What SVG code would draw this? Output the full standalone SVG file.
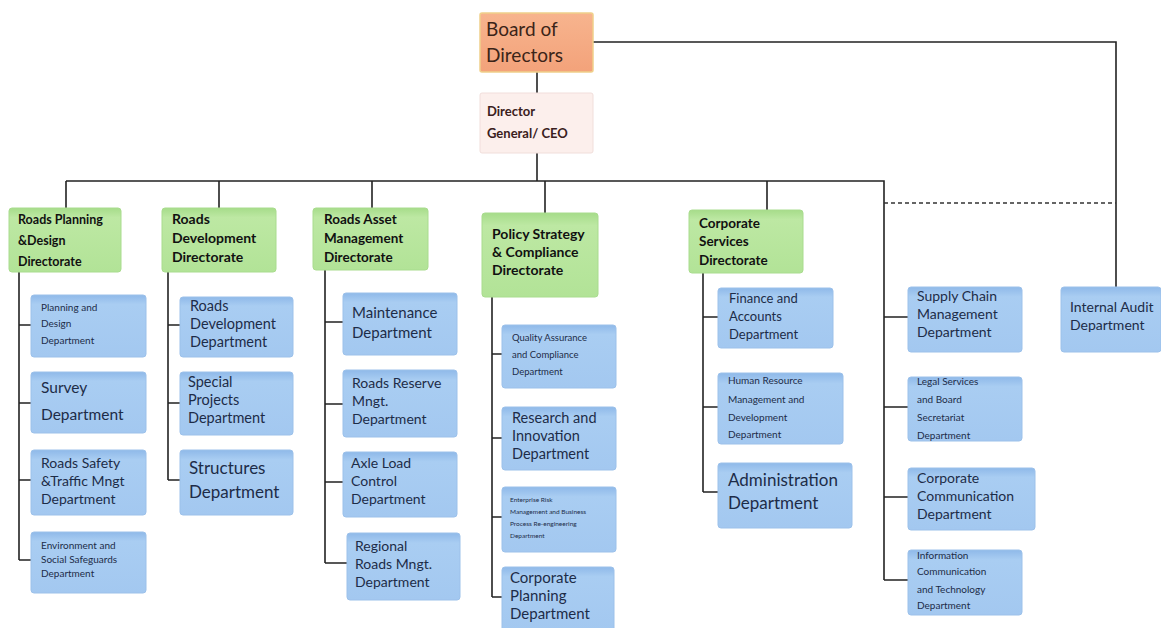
<svg xmlns="http://www.w3.org/2000/svg" width="1161" height="628" viewBox="0 0 1161 628">
<defs>
<linearGradient id="gBlue" x1="0" y1="0" x2="0" y2="1">
<stop offset="0" stop-color="#8fb9e9"/>
<stop offset="0.15" stop-color="#a9cdf2"/>
<stop offset="1" stop-color="#a3c8f0"/>
</linearGradient>
<linearGradient id="gGreen" x1="0" y1="0" x2="0" y2="1">
<stop offset="0" stop-color="#a6dc8a"/>
<stop offset="0.15" stop-color="#bde8a3"/>
<stop offset="1" stop-color="#b2e397"/>
</linearGradient>
<linearGradient id="gOrange" x1="0" y1="0" x2="0" y2="1">
<stop offset="0" stop-color="#f7b48e"/>
<stop offset="1" stop-color="#f3a27a"/>
</linearGradient>
</defs>
<style>
.blue{fill:url(#gBlue);stroke:#9cc1ea;stroke-width:1}
.green{fill:url(#gGreen);stroke:#a9dc8e;stroke-width:1}
.orange{fill:url(#gOrange);stroke:#f0d08a;stroke-width:1.5}
.pink{fill:#fcefec;stroke:#f1dedb;stroke-width:1}
.t{font-family:Lato,"Liberation Sans",sans-serif;fill:#1d2c48}
.gt{font-family:Lato,"Liberation Sans",sans-serif;font-weight:bold;fill:#111}
.ln{fill:none;stroke:#222;stroke-width:1.6}
.dash{fill:none;stroke:#333;stroke-width:1.4;stroke-dasharray:4 3}
</style>
<rect width="1161" height="628" fill="#ffffff"/>

<g id="connectors">
<path class="ln" d="M593 42 H1116 V287"/>
<path class="ln" d="M537 72 V93"/>
<path class="ln" d="M537 153 V181"/>
<path class="ln" d="M66 181 H884 V580"/>
<path class="ln" d="M66 181 V208 M219 181 V208 M372 181 V208 M545 181 V213 M767 181 V210"/>
<path class="dash" d="M884 203 H1116"/>
<path class="ln" d="M19 272 V560 M19 325 H31 M19 403 H31 M19 480 H31 M19 560 H31"/>
<path class="ln" d="M168 272 V480 M168 325 H180 M168 403 H180 M168 480 H180"/>
<path class="ln" d="M325 270 V563 M325 322 H343 M325 404 H343 M325 482 H343 M325 563 H347"/>
<path class="ln" d="M492 297 V597 M492 354 H502 M492 438 H502 M492 517 H502 M492 597 H502"/>
<path class="ln" d="M703 273 V492 M703 317 H718 M703 407 H718 M703 492 H718"/>
<path class="ln" d="M884 317 H908 M884 407 H908 M884 497 H908 M884 580 H908"/>
</g>

<g id="board">
<rect class="orange" x="480" y="13" width="113" height="59" rx="2"/>
<text class="t" style="fill:#3b2418" font-size="19"><tspan x="486" y="36">Board of</tspan><tspan x="486" y="62">Directors</tspan></text>
</g>
<g id="ceo">
<rect class="pink" x="480" y="93" width="113" height="60" rx="2"/>
<text class="gt" style="fill:#3a2020" font-size="13"><tspan x="487" y="116">Director</tspan><tspan x="487" y="138">General/ CEO</tspan></text>
</g>

<g id="dir-planning">
<rect class="green" x="9" y="208" width="112" height="64" rx="3"/>
<text class="gt" font-size="12.5"><tspan x="18" y="224">Roads Planning</tspan><tspan x="18" y="245">&amp;Design</tspan><tspan x="18" y="266">Directorate</tspan></text>
</g>
<g id="dir-development">
<rect class="green" x="162" y="208" width="114" height="64" rx="3"/>
<text class="gt" font-size="14"><tspan x="172" y="224">Roads</tspan><tspan x="172" y="243">Development</tspan><tspan x="172" y="262">Directorate</tspan></text>
</g>
<g id="dir-asset">
<rect class="green" x="313" y="208" width="115" height="62" rx="3"/>
<text class="gt" font-size="13.5"><tspan x="324" y="224">Roads Asset</tspan><tspan x="324" y="243">Management</tspan><tspan x="324" y="262">Directorate</tspan></text>
</g>
<g id="dir-policy">
<rect class="green" x="482" y="213" width="116" height="84" rx="3"/>
<text class="gt" font-size="14"><tspan x="492" y="239">Policy Strategy</tspan><tspan x="492" y="257">&amp; Compliance</tspan><tspan x="492" y="275">Directorate</tspan></text>
</g>
<g id="dir-corporate">
<rect class="green" x="689" y="210" width="114" height="63" rx="3"/>
<text class="gt" font-size="13.5"><tspan x="699" y="228">Corporate</tspan><tspan x="699" y="246">Services</tspan><tspan x="699" y="265">Directorate</tspan></text>
</g>

<g id="dept-planning-design">
<rect class="blue" x="31" y="295" width="115" height="62" rx="3"/>
<text class="t" font-size="10"><tspan x="41" y="311">Planning and</tspan><tspan x="41" y="327">Design</tspan><tspan x="41" y="344">Department</tspan></text>
</g>
<g id="dept-survey">
<rect class="blue" x="31" y="372" width="115" height="61" rx="3"/>
<text class="t" font-size="15.5"><tspan x="41" y="393">Survey</tspan><tspan x="41" y="420">Department</tspan></text>
</g>
<g id="dept-road-safety">
<rect class="blue" x="31" y="450" width="115" height="65" rx="3"/>
<text class="t" font-size="14"><tspan x="41" y="468">Roads Safety</tspan><tspan x="41" y="486">&amp;Traffic Mngt</tspan><tspan x="41" y="504">Department</tspan></text>
</g>
<g id="dept-environment">
<rect class="blue" x="31" y="532" width="115" height="61" rx="3"/>
<text class="t" font-size="10"><tspan x="41" y="549">Environment and</tspan><tspan x="41" y="563">Social Safeguards</tspan><tspan x="41" y="577">Department</tspan></text>
</g>

<g id="dept-roads-development">
<rect class="blue" x="180" y="297" width="113" height="60" rx="3"/>
<text class="t" font-size="14.5"><tspan x="190" y="311">Roads</tspan><tspan x="190" y="329">Development</tspan><tspan x="190" y="347">Department</tspan></text>
</g>
<g id="dept-special-projects">
<rect class="blue" x="180" y="372" width="113" height="63" rx="3"/>
<text class="t" font-size="14.5"><tspan x="188" y="387">Special</tspan><tspan x="188" y="405">Projects</tspan><tspan x="188" y="423">Department</tspan></text>
</g>
<g id="dept-structures">
<rect class="blue" x="180" y="450" width="113" height="65" rx="3"/>
<text class="t" font-size="17"><tspan x="189" y="474">Structures</tspan><tspan x="189" y="498">Department</tspan></text>
</g>

<g id="dept-maintenance">
<rect class="blue" x="343" y="293" width="114" height="62" rx="3"/>
<text class="t" font-size="15"><tspan x="352" y="318">Maintenance</tspan><tspan x="352" y="338">Department</tspan></text>
</g>
<g id="dept-roads-reserve">
<rect class="blue" x="343" y="370" width="114" height="67" rx="3"/>
<text class="t" font-size="14"><tspan x="352" y="388">Roads Reserve</tspan><tspan x="352" y="406">Mngt.</tspan><tspan x="352" y="424">Department</tspan></text>
</g>
<g id="dept-axle-load">
<rect class="blue" x="343" y="452" width="114" height="65" rx="3"/>
<text class="t" font-size="14"><tspan x="351" y="468">Axle Load</tspan><tspan x="351" y="486">Control</tspan><tspan x="351" y="504">Department</tspan></text>
</g>
<g id="dept-regional-roads">
<rect class="blue" x="347" y="533" width="113" height="67" rx="3"/>
<text class="t" font-size="14"><tspan x="355" y="551">Regional</tspan><tspan x="355" y="569">Roads Mngt.</tspan><tspan x="355" y="587">Department</tspan></text>
</g>

<g id="dept-quality">
<rect class="blue" x="502" y="325" width="114" height="63" rx="3"/>
<text class="t" font-size="9.5"><tspan x="512" y="341">Quality Assurance</tspan><tspan x="512" y="358">and Compliance</tspan><tspan x="512" y="375">Department</tspan></text>
</g>
<g id="dept-research">
<rect class="blue" x="502" y="407" width="114" height="63" rx="3"/>
<text class="t" font-size="14.5"><tspan x="512" y="423">Research and</tspan><tspan x="512" y="441">Innovation</tspan><tspan x="512" y="459">Department</tspan></text>
</g>
<g id="dept-enterprise-risk">
<rect class="blue" x="502" y="487" width="114" height="65" rx="3"/>
<text class="t" font-size="6.5"><tspan x="510" y="502">Enterprise Risk</tspan><tspan x="510" y="514">Management and Business</tspan><tspan x="510" y="526">Process Re-engineering</tspan><tspan x="510" y="538">Department</tspan></text>
</g>
<g id="dept-corporate-planning">
<rect class="blue" x="502" y="567" width="112" height="64" rx="3"/>
<text class="t" font-size="15"><tspan x="510" y="583">Corporate</tspan><tspan x="510" y="601">Planning</tspan><tspan x="510" y="619">Department</tspan></text>
</g>

<g id="dept-finance">
<rect class="blue" x="718" y="288" width="115" height="60" rx="3"/>
<text class="t" font-size="13"><tspan x="729" y="303">Finance and</tspan><tspan x="729" y="321">Accounts</tspan><tspan x="729" y="339">Department</tspan></text>
</g>
<g id="dept-human-resource">
<rect class="blue" x="718" y="373" width="125" height="71" rx="3"/>
<text class="t" font-size="10"><tspan x="728" y="384">Human Resource</tspan><tspan x="728" y="403">Management and</tspan><tspan x="728" y="421">Development</tspan><tspan x="728" y="438">Department</tspan></text>
</g>
<g id="dept-administration">
<rect class="blue" x="718" y="463" width="134" height="65" rx="3"/>
<text class="t" font-size="17"><tspan x="728" y="486">Administration</tspan><tspan x="728" y="509">Department</tspan></text>
</g>

<g id="dept-supply-chain">
<rect class="blue" x="908" y="287" width="114" height="65" rx="3"/>
<text class="t" font-size="14"><tspan x="917" y="301">Supply Chain</tspan><tspan x="917" y="319">Management</tspan><tspan x="917" y="337">Department</tspan></text>
</g>
<g id="dept-legal">
<rect class="blue" x="908" y="377" width="114" height="64" rx="3"/>
<text class="t" font-size="10"><tspan x="917" y="385">Legal Services</tspan><tspan x="917" y="403">and Board</tspan><tspan x="917" y="421">Secretariat</tspan><tspan x="917" y="439">Department</tspan></text>
</g>
<g id="dept-corporate-communication">
<rect class="blue" x="908" y="468" width="127" height="62" rx="3"/>
<text class="t" font-size="14"><tspan x="917" y="483">Corporate</tspan><tspan x="917" y="501">Communication</tspan><tspan x="917" y="519">Department</tspan></text>
</g>
<g id="dept-ict">
<rect class="blue" x="908" y="550" width="114" height="65" rx="3"/>
<text class="t" font-size="10"><tspan x="917" y="559">Information</tspan><tspan x="917" y="575">Communication</tspan><tspan x="917" y="593">and Technology</tspan><tspan x="917" y="609">Department</tspan></text>
</g>

<g id="dept-internal-audit">
<rect class="blue" x="1061" y="287" width="100" height="65" rx="3"/>
<text class="t" font-size="14"><tspan x="1070" y="312">Internal Audit</tspan><tspan x="1070" y="330">Department</tspan></text>
</g>
</svg>
